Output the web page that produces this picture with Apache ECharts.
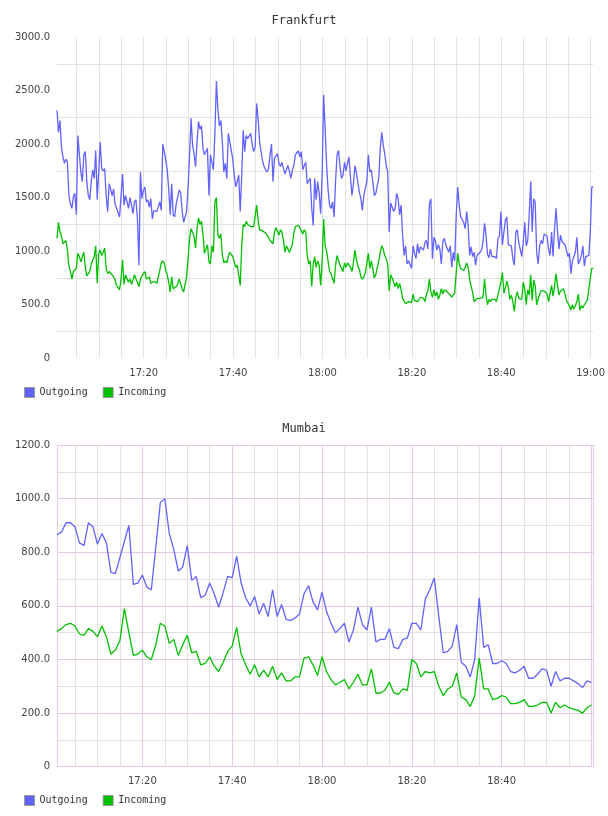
<!DOCTYPE html>
<html>
<head>
<meta charset="utf-8">
<script src="https://cdn.jsdelivr.net/npm/echarts@6/dist/echarts.min.js"></script>
<style>html,body{margin:0;padding:0;background:#fff}#c{width:608px;height:816px}</style>
</head>
<body>
<div id="c"></div>
<script>
// ---------- data ----------
const seriesNames = ['Outgoing', 'Incoming'];
const chartTitles = ['Frankfurt', 'Mumbai'];

// x values are minutes after 17:00
const frankfurtStart = 0.6;      // 17:00:36
const frankfurtStep = 1 / 3;     // 20 s
const frankfurtOutgoing = [
  2315,2110,2220,1970,1880,1820,1860,1830,1520,1440,
  1400,1510,1540,1340,2080,1910,1740,1650,1900,1930,
  1650,1520,1480,1650,1760,1680,1940,1480,1740,2020,
  1770,1750,1770,1520,1370,1630,1580,1520,1580,1440,
  1400,1410,1320,1320,1720,1430,1520,1520,1400,1500,
  1430,1350,1460,1480,1300,870,1740,1490,1570,1600,
  1460,1480,1410,1490,1300,1380,1370,1370,1360,1460,
  1380,2000,1930,1850,1760,1580,1340,1630,1340,1320,
  1440,1430,1570,1550,1380,1270,1260,1370,1600,1900,
  2240,
  1990,1910,1790,2020,2210,2140,2170,1960,1900,1930,
  1960,1520,1900,1910,1760,2100,2590,2330,2170,2220,
  2020,1740,1820,1680,2100,2020,1940,1860,1710,1600,
  1650,1710,1370,1710,2130,1930,2080,2050,2040,2100,
  2000,1930,1970,2380,2240,2020,1930,1840,1790,1760,
  1740,1770,1900,2000,1650,1870,1890,1910,1820,1790,
  1830,1820,1720,1760,1800,1750,1680,1760,1800,1900,
  1890,1940,1880,1930,1760,1800,1830,1630,1620,1680,
  1400,1240,1680,1480,1650,1540,1350,1710,2460,
  2140,1800,1570,1430,1400,1460,1320,1650,1900,1940,
  1790,1680,1710,1830,1750,1820,1880,1690,1520,1630,
  1800,1730,1640,1550,1490,1380,1520,1590,1650,1900,
  1740,1760,1650,1520,1540,1610,1680,1960,2110,1990,
  1910,1800,1740,1180,1450,1440,1370,1400,1540,1490,
  1340,1430,1150,960,1050,880,910,920,840,1050,
  980,930,1070,980,1040,1030,1010,1080,1100,1020,
  1440,1490,930,1130,1100,1010,1060,1020,880,1090,
  1120,1060,1070,990,1050,850,990,910,1340,1600,
  1430,1320,1310,1270,1210,1370,1240,960,1040,950,
  990,870,960,950,990,1010,1090,1260,1150,970,
  940,1020,950,960,950,930,1120,1140,1370,1060,
  1050,1290,1320,1060,1050,1050,930,870,1180,1200,
  1080,1090,950,1090,1270,1050,1100,1340,1650,1180,
  1490,1460,990,880,1050,1100,1070,1160,1150,1140,
  1020,960,1180,950,1210,1400,1180,1020,1150,1090,
  1080,1060,1010,950,980,790,910,900,990,1130,
  880,910,960,1050,860,950,950,960,1180,1600,
  1600
];
const frankfurtIncoming = [
  1120,1270,1180,1140,1070,1070,1100,1010,860,810,
  740,810,800,840,980,950,900,950,990,850,
  770,760,810,880,880,950,1050,700,980,1010,
  960,990,1030,840,790,810,800,780,760,730,
  680,680,640,740,920,690,780,770,710,740,
  690,730,780,740,710,670,740,770,780,810,
  740,750,760,700,710,720,710,700,700,820,
  890,910,890,820,780,710,620,760,650,650,
  670,690,740,730,650,620,620,760,930,1120,
  1210,
  1200,1140,1030,1210,1310,1250,1280,1160,980,980,
  1060,900,880,1050,990,1460,1500,1150,1120,1160,
  960,890,910,890,950,990,980,950,900,850,
  870,860,680,1050,1250,1230,1280,1250,1240,1230,
  1240,1230,1230,1430,1290,1200,1200,1190,1180,1170,
  1150,1130,1100,1110,1070,1180,1220,1210,1150,1200,
  1180,1100,990,1050,1060,990,1000,1060,1170,1230,
  1230,1240,1220,1230,1160,1200,1180,960,880,910,
  670,880,950,850,910,870,680,900,1300,
  1050,1000,990,810,790,800,700,870,960,950,
  870,840,810,890,850,890,900,850,810,890,
  1010,920,860,830,760,740,760,800,790,980,
  840,910,840,750,780,850,910,990,1050,1020,
  960,930,880,630,780,750,760,670,710,650,
  700,640,560,550,510,520,530,540,520,600,
  540,550,530,520,570,560,560,530,600,630,
  740,620,570,640,580,620,550,590,650,600,
  640,630,620,610,590,570,580,610,800,980,
  880,840,840,820,850,890,850,740,670,620,
  530,540,560,570,560,550,570,740,590,500,
  550,530,550,540,550,530,590,600,710,800,
  610,660,720,660,550,590,530,440,570,620,
  560,570,550,710,650,500,640,590,780,540,
  730,680,500,500,600,630,640,630,640,600,
  530,540,680,580,670,790,680,590,630,630,
  650,600,540,550,490,450,500,460,490,530,
  600,450,490,470,500,510,540,550,750,840,
  840
];

const mumbaiStart = 1;   // 17:01
const mumbaiStep = 1;    // 1 min
const mumbaiOutgoing = [
  865,875,910,910,895,835,825,910,895,830,
  870,835,725,720,780,840,900,680,685,715,
  670,660,820,985,1000,870,810,730,745,825,
  695,710,630,640,685,645,595,650,710,705,
  785,685,630,600,635,570,610,560,660,560,
  605,550,545,555,570,645,675,615,585,650,
  580,535,500,515,535,465,510,595,530,510,
  595,465,475,475,515,445,440,475,480,535,
  535,510,625,660,705,560,425,430,450,530,
  390,375,335,400,630,445,455,385,385,395,
  385,355,350,360,375,330,330,345,365,360,
  300,355,320,330,330,320,310,295,320,315
];
const mumbaiIncoming = [
  505,515,530,535,525,495,490,515,505,485,
  525,485,420,435,470,590,500,415,420,435,
  410,400,455,535,525,460,475,415,455,490,
  425,430,380,385,410,375,355,390,430,450,
  520,420,380,345,380,335,360,335,375,325,
  350,320,320,335,335,405,410,380,340,410,
  355,325,305,315,325,290,315,345,305,305,
  365,275,275,285,315,275,270,290,285,400,
  385,335,355,350,355,300,265,290,300,350,
  260,250,225,265,405,290,290,250,255,265,
  260,235,235,240,250,225,225,230,240,240,
  200,240,220,230,220,215,210,200,220,230
];

// tick labels
const xLabelMinutes = [20, 40, 60, 80, 100, 120];
const xLabelTexts = ['17:20', '17:40', '18:00', '18:20', '18:40', '19:00'];
const mumbaiXLabelCount = 5;

// ---------- chart ----------
const BLUE = '#6262ff';
const GREEN = '#00c000';
const F_GRID = '#e2e2e2';
const M_MAJOR = '#e4c9e4';
const M_MINOR = '#e3dfe3';
const labelFont = { fontFamily: 'DejaVu Sans', fontSize: 10, color: '#444' };

function xFormatter(count) {
  return function (v) {
    for (let i = 0; i < count; i++) {
      if (Math.abs(xLabelMinutes[i] - v) < 1e-6) return xLabelTexts[i];
    }
    return '';
  };
}
const yFormatter = v => (v === 0 ? '0' : v.toFixed(1));
const toPairs = (arr, start, step) => arr.map((v, i) => [start + i * step, v]);

const legendBase = {
  data: seriesNames, left: 24, padding: 0, icon: 'rect',
  itemWidth: 10, itemHeight: 10, itemGap: 15,
  itemStyle: { borderColor: '#999', borderWidth: 1 },
  textStyle: { fontFamily: 'DejaVu Sans Mono', fontSize: 10, color: '#333' }
};
const titleStyle = { fontFamily: 'DejaVu Sans Mono', fontSize: 12, fontWeight: 'normal', color: '#333' };
const noLine = { show: false };

const option = {
  animation: false,
  backgroundColor: '#fff',
  title: [
    { text: chartTitles[0], left: 'center', top: 15, padding: 0, textStyle: titleStyle },
    { text: chartTitles[1], left: 'center', top: 423, padding: 0, textStyle: titleStyle }
  ],
  legend: [
    Object.assign({}, legendBase, { top: 387 }),
    Object.assign({}, legendBase, { top: 795 })
  ],
  grid: [
    { left: 57, top: 37, width: 536.3, height: 321.3 },
    { left: 57, top: 445, width: 536.3, height: 321.7 }
  ],
  xAxis: [
    {
      gridIndex: 0, type: 'value', position: 'bottom',
      min: 0.6, max: 120.6, minInterval: 5, maxInterval: 5,
      axisLine: noLine, axisTick: noLine,
      axisLabel: Object.assign({ margin: 10, formatter: xFormatter(6), showMinLabel: false, showMaxLabel: false }, labelFont),
      splitLine: { show: true, showMinLine: false, showMaxLine: false, lineStyle: { color: F_GRID, width: 1 } }
    },
    {
      gridIndex: 1, type: 'value', position: 'bottom',
      min: 1.0, max: 120.4, minInterval: 5, maxInterval: 5,
      axisLine: noLine, axisTick: noLine, axisLabel: { show: false },
      splitLine: { show: true, lineStyle: { color: M_MINOR, width: 1 } }
    },
    {
      gridIndex: 1, type: 'value', position: 'bottom', z: 1,
      min: 1.0, max: 120.4, minInterval: 20, maxInterval: 20,
      axisLine: noLine, axisTick: noLine,
      axisLabel: Object.assign({ margin: 10, formatter: xFormatter(mumbaiXLabelCount), showMinLabel: false, showMaxLabel: false }, labelFont),
      splitLine: { show: true, lineStyle: { color: M_MAJOR, width: 1 } }
    }
  ],
  yAxis: [
    {
      gridIndex: 0, type: 'value', min: 0, max: 3000, interval: 500,
      axisLine: noLine, axisTick: noLine,
      axisLabel: Object.assign({ margin: 7, formatter: yFormatter }, labelFont),
      splitLine: { show: false },
      minorTick: { show: false, splitNumber: 2 },
      minorSplitLine: { show: true, lineStyle: { color: F_GRID, width: 1 } }
    },
    {
      gridIndex: 1, type: 'value', min: 0, max: 1200, interval: 200,
      axisLine: noLine, axisTick: noLine,
      axisLabel: Object.assign({ margin: 7, formatter: yFormatter }, labelFont),
      splitLine: { show: true, lineStyle: { color: M_MAJOR, width: 1 } },
      minorTick: { show: false, splitNumber: 2 },
      minorSplitLine: { show: true, lineStyle: { color: M_MINOR, width: 1 } }
    }
  ],
  series: [
    { name: seriesNames[0], type: 'line', xAxisIndex: 0, yAxisIndex: 0, showSymbol: false, symbol: 'none',
      data: toPairs(frankfurtOutgoing, frankfurtStart, frankfurtStep),
      lineStyle: { color: BLUE, width: 1.3 }, itemStyle: { color: BLUE } },
    { name: seriesNames[1], type: 'line', xAxisIndex: 0, yAxisIndex: 0, showSymbol: false, symbol: 'none',
      data: toPairs(frankfurtIncoming, frankfurtStart, frankfurtStep),
      lineStyle: { color: GREEN, width: 1.3 }, itemStyle: { color: GREEN } },
    { name: seriesNames[0], type: 'line', xAxisIndex: 1, yAxisIndex: 1, showSymbol: false, symbol: 'none',
      data: toPairs(mumbaiOutgoing, mumbaiStart, mumbaiStep),
      lineStyle: { color: BLUE, width: 1.3 }, itemStyle: { color: BLUE } },
    { name: seriesNames[1], type: 'line', xAxisIndex: 1, yAxisIndex: 1, showSymbol: false, symbol: 'none',
      data: toPairs(mumbaiIncoming, mumbaiStart, mumbaiStep),
      lineStyle: { color: GREEN, width: 1.3 }, itemStyle: { color: GREEN } }
  ]
};

const chart = echarts.init(document.getElementById('c'), null, { renderer: 'canvas', width: 608, height: 816 });
chart.setOption(option);
</script>
</body>
</html>
